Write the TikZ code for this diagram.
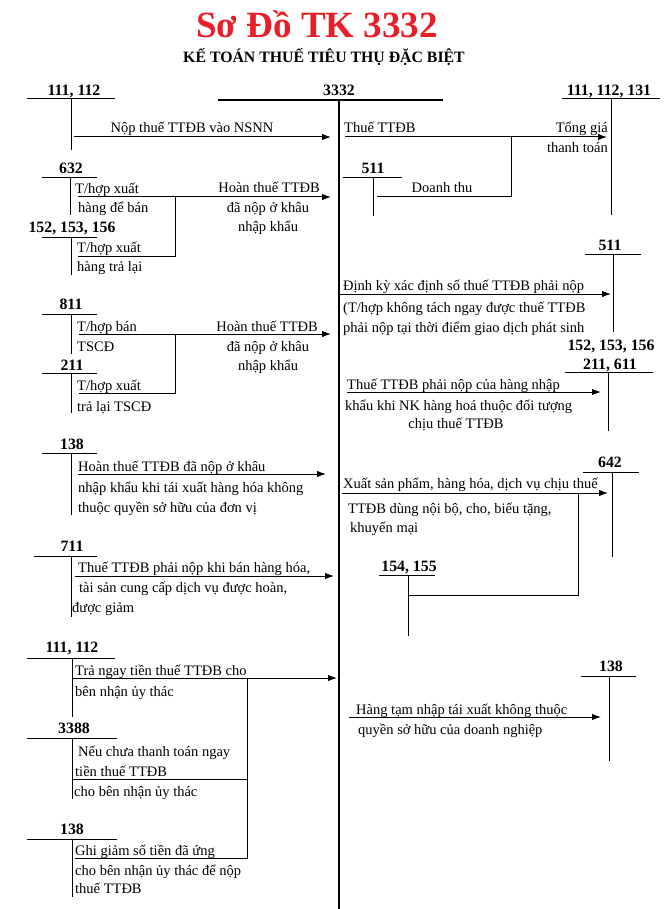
\documentclass[tikz,border=0pt]{standalone}
\usepackage{fontspec}
\setmainfont{Liberation Serif}
\usetikzlibrary{arrows.meta}
\definecolor{titlered}{RGB}{232,30,40}
\tikzset{
 txt/.style={inner sep=0pt, font=\fontsize{14.5}{18}\selectfont},
 tw/.style={txt, anchor=base west},
 te/.style={txt, anchor=base east},
 tc/.style={txt, anchor=base},
 acclabel/.style={inner sep=0pt, anchor=base, font=\fontsize{15.8}{18}\selectfont\bfseries},
 tline/.style={line width=1pt},
 arr/.style={line width=1pt, -{Latex[length=9pt,width=6.5pt]}},
 conn/.style={line width=1pt},
}
\newcommand\taccount[9]{%
  \node[acclabel] (#1) at (#3,#4) {#2};
  \draw[tline] (#5,#7) -- (#6,#7);
  \draw[tline] (#8,#7) -- (#8,#9);
}
\begin{document}
\begin{tikzpicture}[x=1pt,y=-1pt]
\useasboundingbox (0,0) rectangle (671,909);
\fill[white] (0,0) rectangle (671,909);

% titles
\node[inner sep=0pt, anchor=base, text=titlered, font=\fontsize{37}{40}\selectfont\bfseries] (title) at (317,38) {Sơ Đồ TK 3332};
\node[inner sep=0pt, anchor=base, font=\fontsize{15.8}{18}\selectfont\bfseries] (subtitle) at (324,63) {KẾ TOÁN THUẾ TIÊU THỤ ĐẶC BIỆT};

% central account
\node[acclabel] (main) at (339,96) {3332};
\draw[line width=2.5pt] (218,100) -- (443,100);
\coordinate (ctop) at (339,100);
\coordinate (cbot) at (339,909);
\draw[line width=2pt] (ctop) -- (cbot);

% ---- top row
\taccount{a111}{111, 112}{74}{96}{27}{115}{99}{71}{150}
\taccount{a111r}{111, 112, 131}{609}{96}{562}{660}{99}{611}{215}
\coordinate (p1s) at (74,137); \coordinate (p1e) at (331,137);
\draw[arr] (p1s) -- (p1e);
\node[tc] (l1) at (192,133) {Nộp thuế TTĐB vào NSNN};
\coordinate (p2s) at (345,137); \coordinate (p2e) at (607,137);
\draw[arr] (p2s) -- (p2e);
\node[tw] (l2) at (344,133) {Thuế TTĐB};
\node[te] (l3) at (608,133) {Tổng giá};
\node[te] (l4) at (608,153) {thanh toán};
\taccount{a511}{511}{373}{174}{343}{402}{178}{373}{216}
\coordinate (j1) at (511,137); \coordinate (j2) at (377,197);
\draw[conn] (j1) |- (j2);
\node[tc] (l5) at (442,193) {Doanh thu};

% ---- 632 block
\taccount{a632}{632}{71}{174}{42}{97}{178}{70}{215}
\node[tw] (l6) at (75,194) {T/hợp xuất};
\node[tw] (l7) at (78,213) {hàng để bán};
\coordinate (p3s) at (78,197); \coordinate (p3e) at (331,197);
\draw[arr] (p3s) -- (p3e);
\node[te] (l8) at (320,193) {Hoàn thuế TTĐB};
\node[tc] (l9) at (268,213) {đã nộp ở khâu};
\node[tc] (l10) at (268,232) {nhập khẩu};
\coordinate (j3) at (175,197); \coordinate (j4) at (78,256);
\draw[conn] (j3) |- (j4);
\taccount{a152}{152, 153, 156}{72}{233}{42}{97}{237}{71}{275}
\node[tw] (l11) at (77,252) {T/hợp xuất};
\node[tw] (l12) at (77,271) {hàng trả lại};

% ---- right 511
\taccount{a511r}{511}{610}{250}{585}{641}{254}{613}{332}
\coordinate (p4s) at (338,294); \coordinate (p4e) at (611,294);
\draw[arr] (p4s) -- (p4e);
\node[tw] (l13) at (343,290) {Định kỳ xác định số thuế TTĐB phải nộp};
\node[tw] (l14) at (343,312) {(T/hợp không tách ngay được thuế TTĐB};
\node[tw] (l15) at (343,332) {phải nộp tại thời điểm giao dịch phát sinh};
\node[acclabel] (a152r) at (611,350) {152, 153, 156};

% ---- 811 block
\taccount{a811}{811}{71}{309}{42}{97}{314}{71}{354}
\node[tw] (l16) at (77,331) {T/hợp bán};
\node[tw] (l17) at (77,351) {TSCĐ};
\coordinate (p5s) at (79,334); \coordinate (p5e) at (331,334);
\draw[arr] (p5s) -- (p5e);
\node[te] (l18) at (318,331) {Hoàn thuế TTĐB};
\node[tc] (l19) at (268,351) {đã nộp ở khâu};
\node[tc] (l20) at (268,370) {nhập khẩu};
\coordinate (j5) at (175,334); \coordinate (j6) at (79,393);
\draw[conn] (j5) |- (j6);
\taccount{a211}{211}{72}{370}{42}{97}{373}{71}{413}
\node[tw] (l21) at (77,390) {T/hợp xuất};
\node[tw] (l22) at (77,411) {trả lại TSCĐ};

% ---- right 211, 611
\taccount{a211r}{211, 611}{610}{369}{565}{653}{372}{608}{431}
\coordinate (p6s) at (347,392); \coordinate (p6e) at (601,392);
\draw[arr] (p6s) -- (p6e);
\node[tw] (l23) at (347,389) {Thuế TTĐB phải nộp của hàng nhập};
\node[tw] (l24) at (345,410) {khẩu khi NK hàng hoá thuộc đối tượng};
\node[tc] (l25) at (456,428) {chịu thuế TTĐB};

% ---- 138 block
\taccount{a138}{138}{72}{449}{42}{97}{453}{71}{515}
\coordinate (p7s) at (78,474); \coordinate (p7e) at (326,474);
\draw[arr] (p7s) -- (p7e);
\node[tw] (l26) at (78,471) {Hoàn thuế TTĐB đã nộp ở khâu};
\node[tw] (l27) at (78,492) {nhập khẩu khi tái xuất hàng hóa không};
\node[tw] (l28) at (78,512) {thuộc quyền sở hữu của đơn vị};

% ---- 711 block
\taccount{a711}{711}{72}{551}{34}{97}{556}{71}{617}
\coordinate (p8s) at (75,576); \coordinate (p8e) at (334,576);
\draw[arr] (p8s) -- (p8e);
\node[tw] (l29) at (78,572) {Thuế TTĐB phải nộp khi bán hàng hóa,};
\node[tw] (l30) at (79,592) {tài sản cung cấp dịch vụ được hoàn,};
\node[tw] (l31) at (72,612) {được giảm};

% ---- right 642
\taccount{a642}{642}{610}{467}{583}{639}{472}{612}{557}
\coordinate (p9s) at (342,493); \coordinate (p9e) at (608,493);
\draw[arr] (p9s) -- (p9e);
\node[tw] (l32) at (343,488) {Xuất sản phẩm, hàng hóa, dịch vụ chịu thuế};
\node[tw] (l33) at (348,513) {TTĐB dùng nội bộ, cho, biếu tặng,};
\node[tw] (l34) at (350,532) {khuyến mại};
\coordinate (j7) at (578,493); \coordinate (j8) at (408,595);
\draw[conn] (j7) |- (j8);
\taccount{a154}{154, 155}{409}{571}{379}{435}{575}{408}{636}

% ---- bottom left 111, 112
\taccount{a111b}{111, 112}{72}{652}{27}{115}{658}{72}{717}
\coordinate (p10s) at (72,678); \coordinate (p10e) at (337,678);
\draw[arr] (p10s) -- (p10e);
\node[tw] (l35) at (75,675) {Trả ngay tiền thuế TTĐB cho};
\node[tw] (l36) at (75,696) {bên nhận ủy thác};
\coordinate (j9) at (247,678); \coordinate (j10) at (247,858);
\coordinate (j11) at (72,779); \coordinate (j12) at (75,858);
\coordinate (j13) at (247,779);
\draw[conn] (j9) -- (j10) -- (j12);
\draw[conn] (j11) -- (j13);
\taccount{a3388}{3388}{74}{733}{27}{117}{738}{72}{799}
\node[tw] (l37) at (78,756) {Nếu chưa thanh toán ngay};
\node[tw] (l38) at (75,776) {tiền thuế TTĐB};
\node[tw] (l39) at (74,796) {cho bên nhận ủy thác};
\taccount{a138b}{138}{72}{834}{27}{117}{839}{72}{897}
\node[tw] (l40) at (75,855) {Ghi giảm số tiền đã ứng};
\node[tw] (l41) at (75,875) {cho bên nhận ủy thác để nộp};
\node[tw] (l42) at (75,893) {thuế TTĐB};

% ---- right 138
\taccount{a138r}{138}{611}{671}{581}{636}{676}{609}{761}
\coordinate (p11s) at (349,717); \coordinate (p11e) at (601,717);
\draw[arr] (p11s) -- (p11e);
\node[tw] (l43) at (356,714) {Hàng tạm nhập tái xuất không thuộc};
\node[tw] (l44) at (358,734) {quyền sở hữu của doanh nghiệp};
\end{tikzpicture}
\end{document}
